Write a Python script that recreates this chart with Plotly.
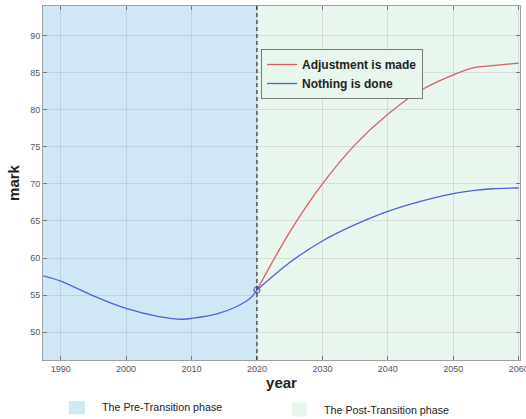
import plotly.graph_objects as go

# ---- data ----
pre_years = [1987.3, 1990, 1995, 2000, 2005, 2008.7, 2010, 2014, 2017, 2019, 2020]
pre_mark = [57.6, 56.9, 54.9, 53.2, 52.1, 51.75, 51.85, 52.5, 53.5, 54.6, 55.7]

post_years = [2020, 2025, 2030, 2035, 2040, 2045, 2050, 2053, 2056, 2060]
adjust_mark = [55.7, 63.5, 70.0, 75.3, 79.4, 82.6, 84.7, 85.65, 85.95, 86.3]
nothing_mark = [55.7, 59.4, 62.3, 64.5, 66.3, 67.65, 68.7, 69.1, 69.35, 69.45]

transition_year = 2020
transition_mark = 55.7
x_range = [1987.3, 2060.2]
y_range = [46.25, 94]
x_ticks = [1990, 2000, 2010, 2020, 2030, 2040, 2050, 2060]
y_ticks = [50, 55, 60, 65, 70, 75, 80, 85, 90]

PRE_COLOR = "rgb(208,232,246)"
POST_COLOR = "rgb(232,246,238)"
RED = "rgb(215,95,95)"
BLUE = "rgb(80,95,220)"

fig = go.Figure()

fig.add_trace(go.Scatter(x=post_years, y=adjust_mark, mode="lines", name="Adjustment is made",
                         line=dict(color=RED, width=1.3, shape="spline", smoothing=0.8)))
fig.add_trace(go.Scatter(x=post_years, y=nothing_mark, mode="lines", name="Nothing is done",
                         line=dict(color=BLUE, width=1.3, shape="spline", smoothing=0.8)))
fig.add_trace(go.Scatter(x=pre_years, y=pre_mark, mode="lines", showlegend=False,
                         line=dict(color=BLUE, width=1.3, shape="spline", smoothing=0.8)))
fig.add_trace(go.Scatter(x=[transition_year], y=[transition_mark], mode="markers", showlegend=False,
                         marker=dict(symbol="circle-open", size=6, color="rgb(110,100,150)",
                                     line=dict(width=1.2))))

# shaded phases
fig.add_shape(type="rect", xref="x", yref="paper", x0=x_range[0], x1=transition_year, y0=0, y1=1,
              fillcolor=PRE_COLOR, line_width=0, layer="below")
fig.add_shape(type="rect", xref="x", yref="paper", x0=transition_year, x1=x_range[1], y0=0, y1=1,
              fillcolor=POST_COLOR, line_width=0, layer="below")
fig.add_shape(type="line", xref="x", yref="paper", x0=transition_year, x1=transition_year, y0=0, y1=1,
              line=dict(color="rgb(50,50,50)", width=1.2, dash="4px,3px"))

# bottom legend for phases
fig.add_shape(type="rect", xref="paper", yref="paper", x0=0.0545, x1=0.088, y0=-0.153, y1=-0.116,
              fillcolor=PRE_COLOR, line_width=0)
fig.add_shape(type="rect", xref="paper", yref="paper", x0=0.5215, x1=0.553, y0=-0.160, y1=-0.120,
              fillcolor=POST_COLOR, line_width=0)
fig.add_annotation(xref="paper", yref="paper", x=0.12, y=-0.133, text="The Pre-Transition phase",
                   showarrow=False, xanchor="left", yanchor="middle",
                   font=dict(family="Liberation Sans, Arial", size=10.7, color="#222"))
fig.add_annotation(xref="paper", yref="paper", x=0.584, y=-0.141, text="The Post-Transition phase",
                   showarrow=False, xanchor="left", yanchor="middle",
                   font=dict(family="Liberation Sans, Arial", size=10.7, color="#222"))

axis_common = dict(showline=True, mirror="ticks", linecolor="rgb(160,160,160)", linewidth=1,
                   showgrid=True, gridcolor="rgba(0,0,0,0.09)", gridwidth=1,
                   ticks="inside", ticklen=4, tickcolor="rgb(120,120,120)",
                   tickfont=dict(family="Liberation Sans, Arial", size=9, color="#555"),
                   zeroline=False, automargin=False, ticklabeloverflow="allow")

fig.update_xaxes(range=x_range, tickvals=x_ticks, **axis_common,
                 title=dict(text="year", standoff=4,
                            font=dict(family="Liberation Sans, Arial", size=15, color="#222", weight="bold")))
fig.update_yaxes(range=y_range, tickvals=y_ticks, **axis_common,
                 title=dict(text="mark", standoff=6,
                            font=dict(family="Liberation Sans, Arial", size=15, color="#222", weight="bold")))

fig.update_layout(
    width=526, height=419,
    margin=dict(l=43, r=6, t=6, b=59),
    paper_bgcolor="white",
    plot_bgcolor="white",
    legend=dict(x=(261 - 43) / 477, y=(360 - 49) / 354, xanchor="left", yanchor="top",
                bgcolor=POST_COLOR, bordercolor="rgb(120,120,120)", borderwidth=1,
                font=dict(family="Liberation Sans, Arial", size=12, color="#222", weight="bold"),
                tracegroupgap=0, itemwidth=30),
    showlegend=True,
)

fig.write_html("out.html", config={"displayModeBar": False},
               post_script="document.body.style.margin='0';document.body.style.overflow='hidden';")
